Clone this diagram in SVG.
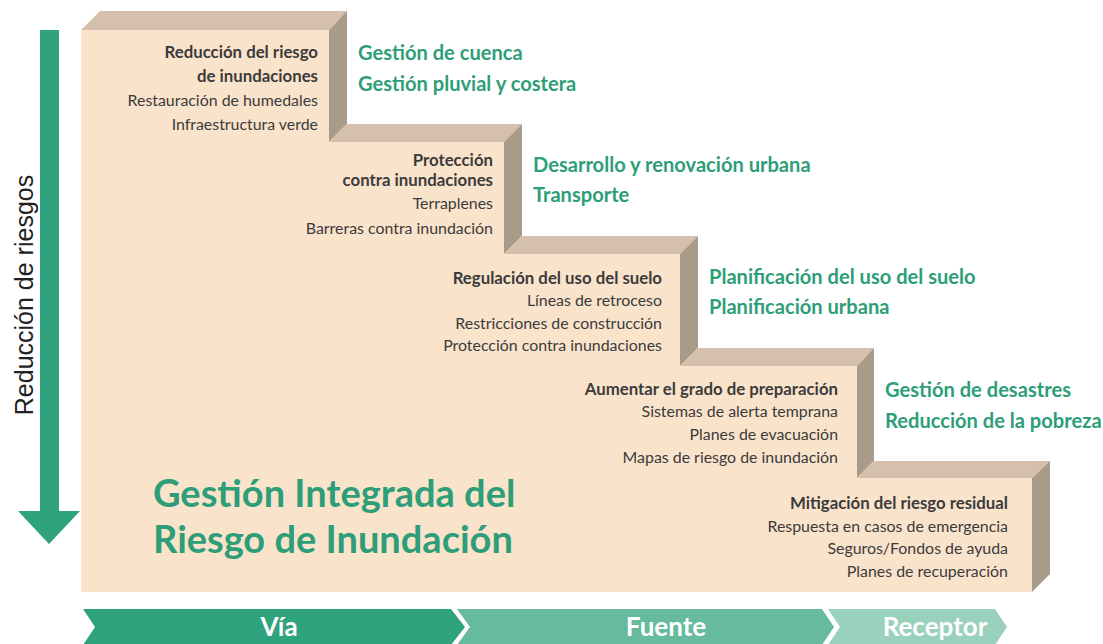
<svg xmlns="http://www.w3.org/2000/svg" width="1103" height="644" viewBox="0 0 1103 644">
<style>
.front{fill:#FAE3CB}
.top{fill:#D5C0AE}
.side{fill:#AA9A8A}
.h{font-family:Lato,"Noto Sans",sans-serif;font-weight:bold;font-size:16.8px;fill:#3b3b3b;text-anchor:end}
.i{font-family:Lato,"Noto Sans",sans-serif;font-size:15.9px;fill:#3b3b3b;text-anchor:end}
.g{font-family:Lato,"Noto Sans",sans-serif;font-weight:bold;font-size:20.1px;fill:#2E9E78}
.t{font-family:Lato,"Noto Sans",sans-serif;font-weight:bold;font-size:38px;fill:#2E9E78}
.b{font-family:Lato,"Noto Sans",sans-serif;font-weight:bold;font-size:26px;fill:#ffffff;text-anchor:middle}
</style>
<rect width="1103" height="644" fill="#ffffff"/>
<g id="axis">
<path d="M40,30 H59 V511 H80 L49,544 L18,511 H40 Z" fill="#2FA37D"/>
<text x="33" y="295" transform="rotate(-90 33 295)" font-family="Liberation Sans,Arial,sans-serif" font-size="25" fill="#222222" text-anchor="middle">Reducción de riesgos</text>
</g>
<g id="stairs">
<path class="front" d="M81,30 H329 V142 H504 V254 H680 V366 H857 V478 H1032 V592 H81 Z"/>
<path class="top" d="M81,30 L100,11 H347 L329,30 Z"/>
<path class="side" d="M329,30 L347,11 V124 L329,142 Z"/>
<path class="top" d="M329,142 L347,124 H522 L504,142 Z"/>
<path class="side" d="M504,142 L522,124 V236 L504,254 Z"/>
<path class="top" d="M504,254 L522,236 H698 L680,254 Z"/>
<path class="side" d="M680,254 L698,236 V348 L680,366 Z"/>
<path class="top" d="M680,366 L698,348 H874 L857,366 Z"/>
<path class="side" d="M857,366 L874,348 V461 L857,478 Z"/>
<path class="top" d="M857,478 L874,461 H1050 L1032,478 Z"/>
<path class="side" d="M1032,478 L1050,461 V574 L1032,592 Z"/>
</g>
<g id="step1">
<text class="h" x="318" y="58">Reducción del riesgo</text>
<text class="h" x="318" y="82">de inundaciones</text>
<text class="i" x="318" y="106">Restauración de humedales</text>
<text class="i" x="318" y="130">Infraestructura verde</text>
<text class="g" x="358" y="60">Gestión de cuenca</text>
<text class="g" x="358" y="91">Gestión pluvial y costera</text>
</g>
<g id="step2">
<text class="h" x="493" y="166">Protección</text>
<text class="h" x="493" y="186">contra inundaciones</text>
<text class="i" x="493" y="209">Terraplenes</text>
<text class="i" x="493" y="234">Barreras contra inundación</text>
<text class="g" x="533" y="172">Desarrollo y renovación urbana</text>
<text class="g" x="533" y="202">Transporte</text>
</g>
<g id="step3">
<text class="h" x="662" y="284">Regulación del uso del suelo</text>
<text class="i" x="662" y="306">Líneas de retroceso</text>
<text class="i" x="662" y="329">Restricciones de construcción</text>
<text class="i" x="662" y="351">Protección contra inundaciones</text>
<text class="g" x="709" y="284">Planificación del uso del suelo</text>
<text class="g" x="709" y="314">Planificación urbana</text>
</g>
<g id="step4">
<text class="h" x="838" y="395">Aumentar el grado de preparación</text>
<text class="i" x="838" y="417">Sistemas de alerta temprana</text>
<text class="i" x="838" y="440">Planes de evacuación</text>
<text class="i" x="838" y="463">Mapas de riesgo de inundación</text>
<text class="g" x="885" y="397">Gestión de desastres</text>
<text class="g" x="885" y="428">Reducción de la pobreza</text>
</g>
<g id="step5">
<text class="h" x="1008" y="509">Mitigación del riesgo residual</text>
<text class="i" x="1008" y="532">Respuesta en casos de emergencia</text>
<text class="i" x="1008" y="554">Seguros/Fondos de ayuda</text>
<text class="i" x="1008" y="577">Planes de recuperación</text>
</g>
<g id="title">
<text class="t" x="153" y="507">Gestión Integrada del</text>
<text class="t" x="153" y="553">Riesgo de Inundación</text>
</g>
<g id="phases">
<path d="M83,609 H451 L465,627 L451,645 H83 L95,627 Z" fill="#2FA37D"/>
<text class="b" x="279" y="636">Vía</text>
<path d="M457,609 H822 L834,627 L822,645 H457 L470,627 Z" fill="#66BB9E"/>
<text class="b" x="666" y="636">Fuente</text>
<path d="M828,609 H995 L1007,627 L995,645 H828 L840,627 Z" fill="#9AD1BC"/>
<text class="b" x="935" y="636">Receptor</text>
</g>
</svg>
